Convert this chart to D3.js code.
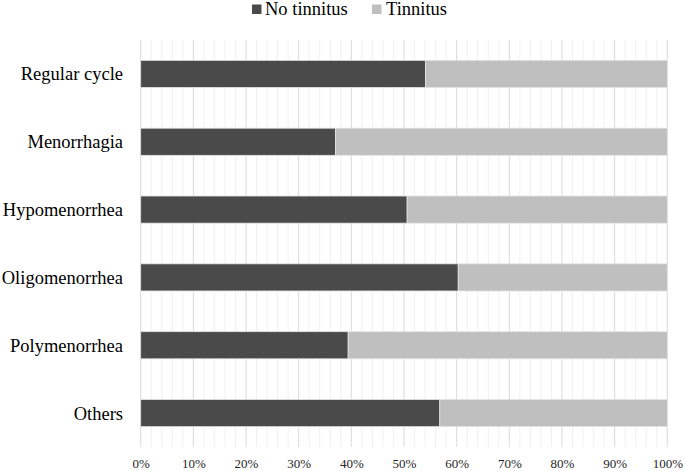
<!DOCTYPE html>
<html><head><meta charset="utf-8">
<script src="https://cdn.jsdelivr.net/npm/d3@7"></script>
<style>body{margin:0;background:#fff} text{font-family:"Liberation Serif","Times New Roman","DejaVu Serif",serif}</style>
</head><body><svg id="c" width="685" height="471"></svg>
<script>
const categories = ["Regular cycle","Menorrhagia","Hypomenorrhea","Oligomenorrhea","Polymenorrhea","Others"];
const noTinnitus = [54.1, 37.0, 50.6, 60.3, 39.4, 56.8];
const tinnitus = noTinnitus.map(v => 100 - v);
const seriesNames = ["No tinnitus","Tinnitus"];
const colors = ["#4a4a4a","#bfbfbf"];
const tickValues = [0,10,20,30,40,50,60,70,80,90,100];

const svg = d3.select("#c");
const m = {left:140.7, right:685-667.3, top:40, bottom:471-447};
const W = 685, H = 471;
const x = d3.scaleLinear().domain([0,100]).range([m.left, W-m.right]);
const y = d3.scaleBand().domain(categories).range([m.top, H-m.bottom]).paddingInner(0.6).paddingOuter(0.3);

const minor = d3.range(0,101,2).filter(v => v%10!==0);
svg.append("g").selectAll("line").data(minor).join("line")
  .attr("x1",d=>x(d)).attr("x2",d=>x(d)).attr("y1",m.top).attr("y2",H-m.bottom)
  .attr("stroke","#f0f0f0").attr("stroke-width",1);
svg.append("g").selectAll("line").data(tickValues).join("line")
  .attr("x1",d=>x(d)).attr("x2",d=>x(d)).attr("y1",m.top).attr("y2",H-m.bottom)
  .attr("stroke","#d9d9d9").attr("stroke-width",1);

const rows = categories.map((c,i)=>[noTinnitus[i], tinnitus[i]]);
const stack = d3.stack().keys([0,1])(rows);
stack.forEach((s,si)=>{
  svg.append("g").selectAll("rect").data(s).join("rect")
    .attr("x",d=>x(d[0])).attr("width",d=>x(d[1])-x(d[0]))
    .attr("y",(d,i)=>y(categories[i])).attr("height",y.bandwidth())
    .attr("fill",colors[si]).attr("stroke","#e3e3e3").attr("stroke-width",0.8);
});

svg.append("g").selectAll("text").data(categories).join("text")
  .attr("x",123).attr("y",d=>y(d)+y.bandwidth()/2).attr("dy","0.35em")
  .attr("text-anchor","end").attr("font-size",18.5)
  .attr("fill","#000").text(d=>d);

const ax = svg.append("g").attr("transform",`translate(0,${H-m.bottom})`)
  .call(d3.axisBottom(x).tickValues(tickValues).tickFormat(d=>d+"%").tickSize(0).tickPadding(12));
ax.select(".domain").remove();
ax.attr("font-family",null);
ax.selectAll("text").attr("font-size",13).attr("fill","#262626");

const leg = [{n:seriesNames[0],c:colors[0],sx:252,tx:265},{n:seriesNames[1],c:colors[1],sx:372,tx:386}];
leg.forEach(l=>{
  svg.append("rect").attr("x",l.sx).attr("y",4.5).attr("width",9.5).attr("height",9.5).attr("fill",l.c);
  svg.append("text").attr("x",l.tx).attr("y",14.5)
    .attr("font-size",18.5).attr("fill","#000").text(l.n);
});
</script></body></html>
